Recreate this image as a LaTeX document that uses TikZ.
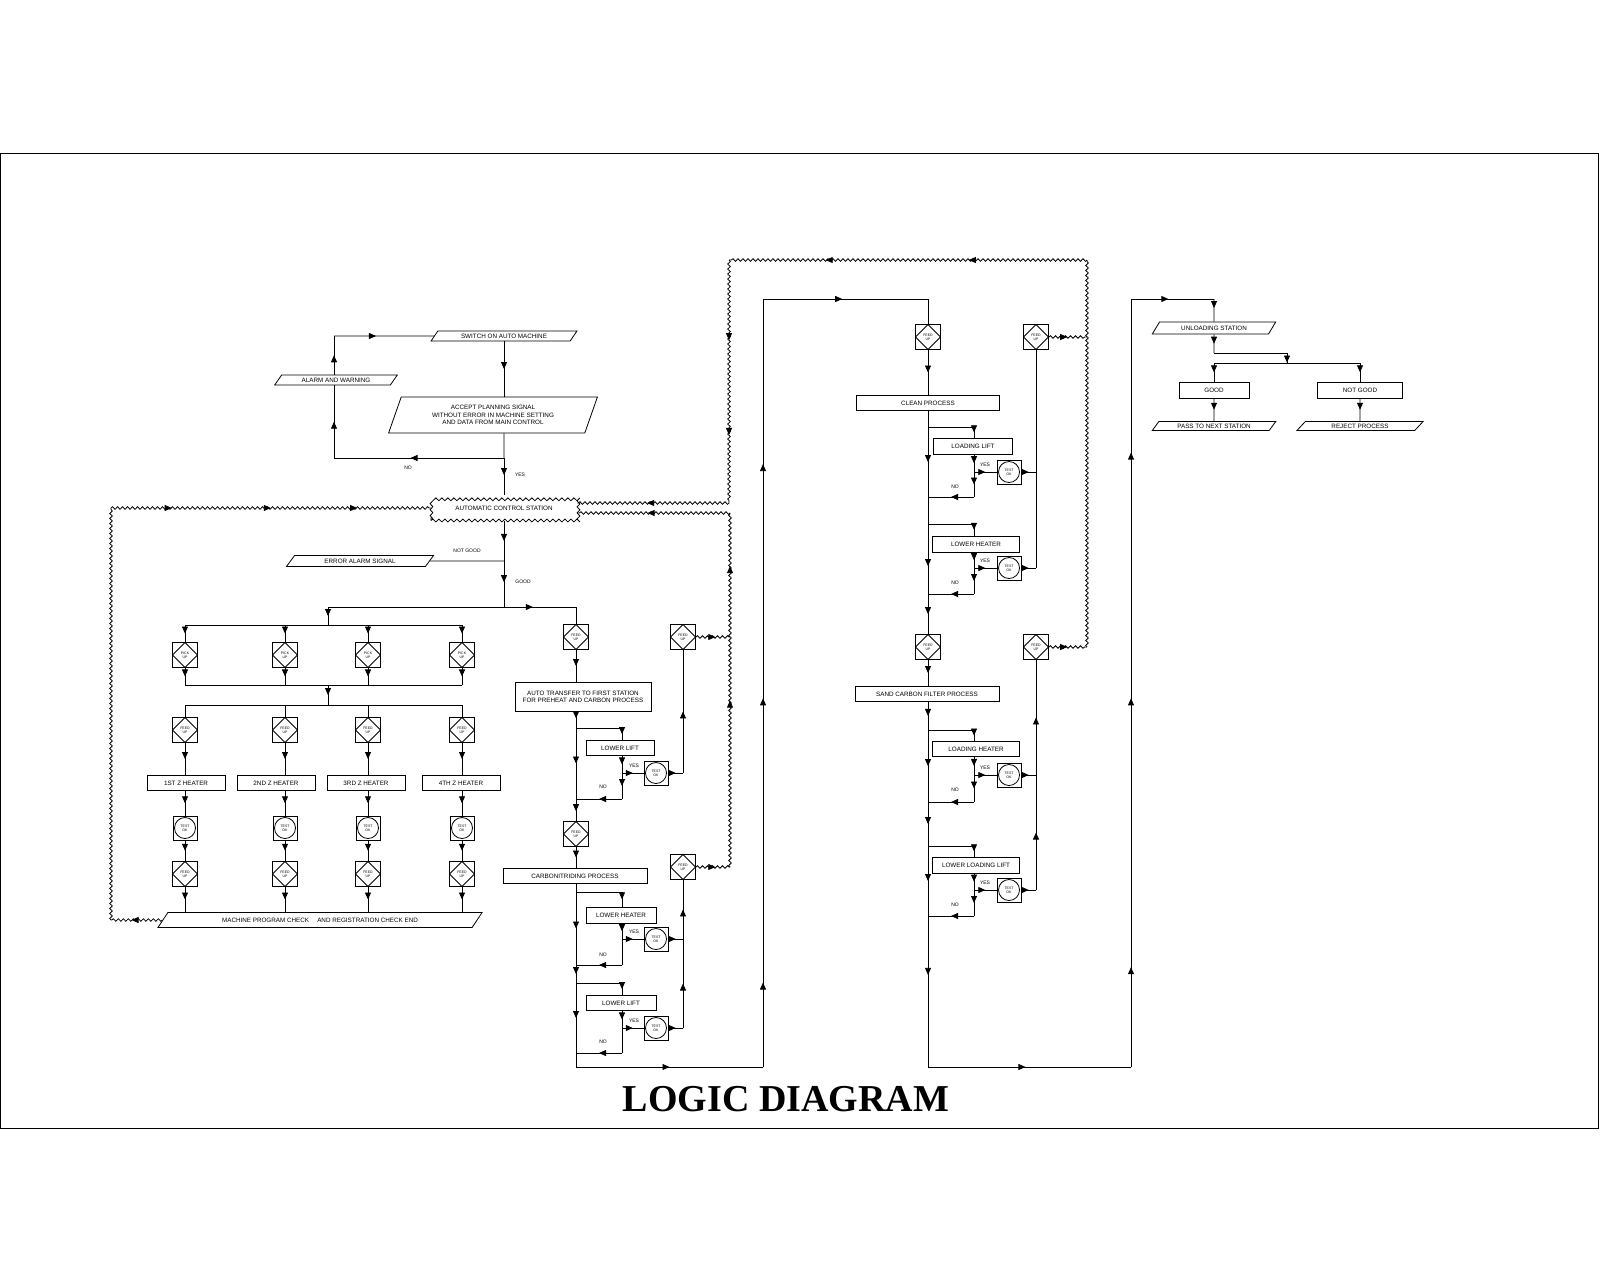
\documentclass[tikz,border=0pt]{standalone}
\usepackage{fontspec}
\setmainfont{Liberation Serif}
\setsansfont{Liberation Sans}
\usepackage{tikz}
\usetikzlibrary{shapes.geometric,decorations.pathmorphing,decorations.markings,arrows.meta}
\begin{document}
\begin{tikzpicture}[x=1pt, y=-1pt, line width=0.8pt,
  every node/.style={font=\sffamily\fontsize{6.3}{7.3}\selectfont, inner sep=1pt, align=center},
  box/.style={draw, rectangle, minimum height=15pt},
  para/.style={draw, trapezium, trapezium left angle=55, trapezium right angle=125, trapezium stretches=true, minimum height=10pt},
  dia/.style={draw, minimum size=25pt, inner sep=0pt, font=\sffamily\fontsize{3.5}{4}\selectfont, path picture={\draw (path picture bounding box.north)--(path picture bounding box.east)--(path picture bounding box.south)--(path picture bounding box.west)--cycle;}},
  chk/.style={draw, minimum size=24pt, inner sep=0pt, font=\sffamily\fontsize{3.5}{4}\selectfont, path picture={\draw (path picture bounding box.center) circle (10.5pt);}},
  wbox/.style={draw, decorate, decoration={snake, amplitude=1.4pt, segment length=6pt}, minimum width=146pt, minimum height=25pt},
  arw/.style={postaction={decorate, decoration={markings, mark=at position #1 with {\arrow{Triangle[length=7pt, width=6pt]}}}}},
  arw/.default=0.5,
  wave/.style={postaction={draw, decorate, decoration={snake, amplitude=1.3pt, segment length=5pt}}},
  lbl/.style={font=\sffamily\fontsize{5}{6}\selectfont}]
\useasboundingbox (0,0) rectangle (1600,1280);
\draw (0,153) rectangle (1598,1128);
\node (ttl) [font=\rmfamily\bfseries\fontsize{38}{44}\selectfont] at (786,1099) {LOGIC DIAGRAM};

\node (sw) [para, minimum width=146pt] at (504,336) {SWITCH ON AUTO MACHINE};
\node (al) [para, minimum width=123pt] at (336,380) {ALARM AND WARNING};
\node (acc) [para, minimum width=209pt, minimum height=36pt, trapezium left angle=68, trapezium right angle=112] at (493,415) {ACCEPT PLANNING SIGNAL\\WITHOUT ERROR IN MACHINE SETTING\\AND DATA FROM MAIN CONTROL};
\node (no0) [lbl] at (408,468) {NO};
\node (yes0) [lbl] at (520,475) {YES};
\node (ctl) [wbox] at (504,508) {AUTOMATIC CONTROL STATION};
\node (rej) [para, minimum width=148pt, minimum height=11pt] at (360,561) {ERROR ALARM SIGNAL};
\node (ng0) [lbl] at (467,551) {NOT GOOD};
\node (gd0) [lbl] at (523,582) {GOOD};
\coordinate (tl) at (334,336); \coordinate (bl) at (334,458); \coordinate (br) at (504,458);
\draw[arw] (sw.south)--(sw.south|-acc.north); \draw (sw.south|-acc.south)--(br);
\draw[arw=0.55] (br)--(bl); \draw[arw] (bl)--(bl|-al.south); \draw[arw] (bl|-al.north)--(tl); \draw[arw=0.42] (tl)--(sw.west);
\draw[arw=0.46] (br)--(ctl.north);
\coordinate (ng1) at (504,561); \coordinate (sp) at (504,607);
\draw[arw] (ctl.south)--(ng1); \draw (ng1)--(rej.east); \draw[arw=0.46] (ng1)--(sp);

% heater columns
\node (pa1) [dia] at (185,655) {PICK\\UP}; \node (pb1) [dia] at (285,655) {PICK\\UP};
\node (pc1) [dia] at (368,655) {PICK\\UP}; \node (pd1) [dia] at (462,655) {PICK\\UP};
\node (pa2) [dia] at (185,730) {FEED\\UP}; \node (pb2) [dia] at (285,730) {FEED\\UP};
\node (pc2) [dia] at (368,730) {FEED\\UP}; \node (pd2) [dia] at (462,730) {FEED\\UP};
\node (ha) [box, minimum width=78pt] at (186,783) {1ST Z HEATER}; \node (hb) [box, minimum width=78pt] at (276,783) {2ND Z HEATER};
\node (hc) [box, minimum width=78pt] at (366,783) {3RD Z HEATER}; \node (hd) [box, minimum width=78pt] at (461,783) {4TH Z HEATER};
\node (ta) [chk] at (185,828) {TEST\\OK}; \node (tb) [chk] at (285,828) {TEST\\OK};
\node (tc) [chk] at (368,828) {TEST\\OK}; \node (td) [chk] at (462,828) {TEST\\OK};
\node (pa3) [dia] at (185,874) {FEED\\UP}; \node (pb3) [dia] at (285,874) {FEED\\UP};
\node (pc3) [dia] at (368,874) {FEED\\UP}; \node (pd3) [dia] at (462,874) {FEED\\UP};
\node (mpc) [para, minimum width=325pt, minimum height=15pt, trapezium left angle=45, trapezium right angle=135] at (320,920) {MACHINE PROGRAM CHECK \quad AND REGISTRATION CHECK END};
\coordinate (sl) at (328,607); \coordinate (sr) at (576,607); \coordinate (r1) at (328,625);
\coordinate (ra) at (185,625); \coordinate (rd) at (462,625);
\coordinate (ka) at (185,685); \coordinate (kd) at (462,685); \coordinate (k0) at (328,685);
\coordinate (la) at (185,705); \coordinate (ld) at (462,705); \coordinate (l0) at (328,705);
\draw (sl)--(sp); \draw[arw=0.4] (sp)--(sr); \draw[arw] (sl)--(r1); \draw (ra)--(rd);
\draw[arw] (ra)--(pa1.north); \draw[arw] (pb1.north|-ra)--(pb1.north); \draw[arw] (pc1.north|-ra)--(pc1.north); \draw[arw] (rd)--(pd1.north);
\draw[arw] (pa1.south)--(ka); \draw[arw] (pb1.south)--(pb1.south|-ka); \draw[arw] (pc1.south)--(pc1.south|-ka); \draw[arw] (pd1.south)--(kd);
\draw (ka)--(kd); \draw[arw] (k0)--(l0); \draw (la)--(ld);
\draw (la)--(pa2.north); \draw (pb2.north|-la)--(pb2.north); \draw (pc2.north|-la)--(pc2.north); \draw (ld)--(pd2.north);
\draw[arw] (pa2.south)--(pa2.south|-ha.north); \draw[arw] (pb2.south)--(pb2.south|-hb.north); \draw[arw] (pc2.south)--(pc2.south|-hc.north); \draw[arw] (pd2.south)--(pd2.south|-hd.north);
\draw[arw] (pa2.south|-ha.south)--(ta.north); \draw[arw] (pb2.south|-hb.south)--(tb.north); \draw[arw] (pc2.south|-hc.south)--(tc.north); \draw[arw] (pd2.south|-hd.south)--(td.north);
\draw[arw] (ta.south)--(pa3.north); \draw[arw] (tb.south)--(pb3.north); \draw[arw] (tc.south)--(pc3.north); \draw[arw] (td.south)--(pd3.north);
\draw[arw] (pa3.south)--(pa3.south|-mpc.north); \draw[arw] (pb3.south)--(pb3.south|-mpc.north); \draw[arw] (pc3.south)--(pc3.south|-mpc.north); \draw[arw] (pd3.south)--(pd3.south|-mpc.north);
\coordinate (wl1) at (111,920); \coordinate (wl2) at (111,508);
\path[wave, arw=0.6] (mpc.west)--(wl1); \path[wave] (wl1)--(wl2); \path[wave, arw=0.19, arw=0.5, arw=0.77] (wl2)--(ctl.west);

% middle column
\node (dm1) [dia] at (576,637) {FEED\\UP}; \node (dm1r) [dia] at (683,637) {FEED\\UP};
\node (tr) [box, minimum width=136pt, minimum height=29pt] at (583,697) {AUTO TRANSFER TO FIRST STATION\\FOR PREHEAT AND CARBON PROCESS};
\node (ll1) [box, minimum width=68pt] at (620,748) {LOWER LIFT};
\node (c1) [chk] at (656,773) {TEST\\OK};
\node (dm2) [dia] at (576,834) {FEED\\UP}; \node (dm2r) [dia] at (683,867) {FEED\\UP};
\node (cb) [box, minimum width=144pt] at (575,876) {CARBONITRIDING PROCESS};
\node (lh1) [box, minimum width=70pt, minimum height=16pt] at (621,915) {LOWER HEATER};
\node (c2) [chk] at (656,939) {TEST\\OK};
\node (ll2) [box, minimum width=70pt] at (621,1003) {LOWER LIFT};
\node (c3) [chk] at (656,1028) {TEST\\OK};
\node [lbl] at (634,766) {YES}; \node [lbl] at (603,787) {NO};
\node [lbl] at (634,932) {YES}; \node [lbl] at (603,955) {NO};
\node [lbl] at (634,1021) {YES}; \node [lbl] at (603,1042) {NO};
\draw (sr)--(dm1.north);
\coordinate (m1) at (576,728); \coordinate (m2) at (576,799); \coordinate (b1) at (622,728);
\coordinate (y1) at (622,773); \coordinate (n1) at (622,799); \coordinate (u1) at (683,773);
\draw[arw] (dm1.south)--(dm1.south|-tr.north); \draw[arw=0.4] (dm1.south|-tr.south)--(m1);
\draw (m1)--(b1); \draw[arw] (b1)--(b1|-ll1.north); \draw[arw] (b1|-ll1.south)--(y1); \draw[arw] (y1)--(n1); \draw[arw] (n1)--(m2);
\draw[arw] (y1)--(c1.west); \draw[arw] (c1.east)--(u1); \draw[arw] (u1)--(dm1r.south);
\draw[arw] (m1)--(m2); \draw[arw=0.55] (m2)--(dm2.north);
\coordinate (m3) at (576,892); \coordinate (b2) at (622,892); \coordinate (y2) at (622,939); \coordinate (n2) at (622,965);
\coordinate (m4) at (576,965); \coordinate (u2) at (683,939);
\draw[arw] (dm2.south)--(dm2.south|-cb.north); \draw (dm2.south|-cb.south)--(m3)--(b2); \draw[arw] (b2)--(b2|-lh1.north);
\draw[arw] (b2|-lh1.south)--(y2); \draw (y2)--(n2); \draw[arw] (n2)--(m4);
\draw[arw] (y2)--(c2.west); \draw[arw] (c2.east)--(u2); \draw[arw] (u2)--(dm2r.south);
\draw[arw] (m3)--(m4);
\coordinate (m5) at (576,983); \coordinate (b3) at (622,983); \coordinate (y3) at (622,1028); \coordinate (n3) at (622,1053);
\coordinate (m6) at (576,1053); \coordinate (u3) at (683,1028);
\draw[arw] (m4)--(m5); \draw (m5)--(b3); \draw[arw] (b3)--(b3|-ll2.north);
\draw[arw] (b3|-ll2.south)--(y3); \draw (y3)--(n3); \draw[arw] (n3)--(m6);
\draw[arw] (y3)--(c3.west); \draw[arw] (c3.east)--(u3); \draw[arw] (u3)--(u2);
\draw[arw] (m5)--(m6);

% right column
\node (dd1) [dia] at (928,337) {FEED\\UP}; \node (dd1r) [dia] at (1036,337) {FEED\\UP};
\node (cp) [box, minimum width=143pt] at (928,403) {CLEAN PROCESS};
\node (lf1) [box, minimum width=79pt, minimum height=16pt] at (973,446) {LOADING LIFT};
\node (c4) [chk] at (1009,472) {TEST\\OK};
\node (lh2) [box, minimum width=87pt, minimum height=16pt] at (976,544) {LOWER HEATER};
\node (c5) [chk] at (1009,568) {TEST\\OK};
\node (dd2) [dia] at (928,647) {FEED\\UP}; \node (dd2r) [dia] at (1036,647) {FEED\\UP};
\node (sc) [box, minimum width=144pt] at (927,694) {SAND CARBON FILTER PROCESS};
\node (lh3) [box, minimum width=87pt] at (976,749) {LOADING HEATER};
\node (c6) [chk] at (1009,775) {TEST\\OK};
\node (ll3) [box, minimum width=87pt, minimum height=16pt] at (976,865) {LOWER LOADING LIFT};
\node (c7) [chk] at (1009,890) {TEST\\OK};
\node [lbl] at (985,465) {YES}; \node [lbl] at (955,487) {NO};
\node [lbl] at (985,561) {YES}; \node [lbl] at (955,583) {NO};
\node [lbl] at (985,768) {YES}; \node [lbl] at (955,790) {NO};
\node [lbl] at (985,883) {YES}; \node [lbl] at (955,905) {NO};
\coordinate (m7) at (576,1067); \coordinate (k1) at (763,1067); \coordinate (k2) at (763,299); \coordinate (k3) at (928,299);
\draw (m6)--(m7); \draw[arw] (m7)--(k1); \draw[arw=0.11, arw=0.48, arw=0.785] (k1)--(k2); \draw[arw=0.48] (k2)--(k3); \draw (k3)--(dd1.north);
\coordinate (q1) at (928,427); \coordinate (e1) at (974,427); \coordinate (f1) at (974,472); \coordinate (g1) at (974,497);
\coordinate (q2) at (928,497); \coordinate (v1) at (1036,472);
\draw[arw] (dd1.south)--(cp.north); \draw (cp.south)--(q1)--(e1); \draw[arw] (e1)--(e1|-lf1.north);
\draw[arw] (e1|-lf1.south)--(f1); \draw[arw] (f1)--(g1); \draw[arw] (g1)--(q2);
\draw[arw] (f1)--(c4.west); \draw[arw] (c4.east)--(v1); \draw[arw] (q1)--(q2);
\coordinate (q3) at (928,524); \coordinate (e2) at (974,524); \coordinate (f2) at (974,568); \coordinate (g2) at (974,594);
\coordinate (q4) at (928,594); \coordinate (v2) at (1036,568);
\draw (q2)--(q3)--(e2); \draw[arw] (e2)--(e2|-lh2.north);
\draw[arw] (e2|-lh2.south)--(f2); \draw[arw] (f2)--(g2); \draw[arw] (g2)--(q4);
\draw[arw] (f2)--(c5.west); \draw[arw] (c5.east)--(v2); \draw[arw=0.6] (q3)--(q4); \draw[arw] (q4)--(dd2.north);
\draw (dd1r.south)--(v2);
\coordinate (q5) at (928,730); \coordinate (e3) at (974,730); \coordinate (f3) at (974,775); \coordinate (g3) at (974,802);
\coordinate (q6) at (928,802); \coordinate (v3) at (1036,775);
\draw[arw] (dd2.south)--(dd2.south|-sc.north); \draw[arw] (dd2.south|-sc.south)--(q5); \draw (q5)--(e3); \draw[arw] (e3)--(e3|-lh3.north);
\draw[arw] (e3|-lh3.south)--(f3); \draw[arw] (f3)--(g3); \draw[arw] (g3)--(q6);
\draw[arw] (f3)--(c6.west); \draw[arw] (c6.east)--(v3); \draw[arw] (q5)--(q6);
\coordinate (q7) at (928,846); \coordinate (e4) at (974,846); \coordinate (f4) at (974,890); \coordinate (g4) at (974,916);
\coordinate (q8) at (928,916); \coordinate (v4) at (1036,890);
\draw[arw] (q6)--(q7); \draw (q7)--(e4); \draw[arw] (e4)--(e4|-ll3.north);
\draw[arw] (e4|-ll3.south)--(f4); \draw[arw] (f4)--(g4); \draw[arw] (g4)--(q8);
\draw[arw] (f4)--(c7.west); \draw[arw] (c7.east)--(v4); \draw[arw] (q7)--(q8);
\draw[arw] (v4)--(v3); \draw[arw] (v3)--(dd2r.south);
\coordinate (q9) at (928,1067); \coordinate (k4) at (1131,1067); \coordinate (k5) at (1131,299); \coordinate (k6) at (1214,299);
\draw[arw=0.39] (q8)--(q9); \draw[arw=0.48] (q9)--(k4); \draw[arw=0.13, arw=0.48, arw=0.8] (k4)--(k5); \draw[arw=0.45] (k5)--(k6);

% feedback lines
\coordinate (w1) at (729,260); \coordinate (w2) at (1087,260); \coordinate (w3) at (729,503); \coordinate (w4) at (730,513);
\coordinate (w5) at (730,867); \coordinate (w6) at (730,637); \coordinate (w7) at (1087,647); \coordinate (w8) at (1087,337);
\path[wave] (w7)--(w2); \path[wave, arw=0.33, arw=0.73] (w2)--(w1); \path[wave, arw=0.33, arw=0.72] (w1)--(w3);
\path[wave, arw=0.54] (w3)--(ctl.east|-w3); \path[wave, arw=0.54] (w4)--(ctl.east|-w4);
\path[wave, arw=0.47, arw=0.85] (w5)--(w4);
\path[wave, arw=0.57] (dm1r.east)--(w6); \path[wave, arw=0.57] (dm2r.east)--(w5);
\path[wave, arw=0.48] (dd1r.east)--(w8); \path[wave, arw=0.48] (dd2r.east)--(w7);

% unloading
\node (uls) [para, minimum width=124pt, minimum height=12pt] at (1214,328) {UNLOADING STATION};
\node (gd) [box, minimum width=70pt, minimum height=16pt] at (1214,390) {GOOD};
\node (ng) [box, minimum width=85pt, minimum height=16pt] at (1360,390) {NOT GOOD};
\node (ps) [para, minimum width=124pt, minimum height=9pt] at (1214,426) {PASS TO NEXT STATION};
\node (rp) [para, minimum width=127pt, minimum height=9pt] at (1360,426) {REJECT PROCESS};
\coordinate (h1) at (1214,353); \coordinate (h2) at (1287,353); \coordinate (h3) at (1287,363);
\coordinate (h4) at (1214,363); \coordinate (h5) at (1360,363);
\draw[arw=0.4] (k6)--(uls.north); \draw[arw] (uls.south)--(h1); \draw (h1)--(h2); \draw[arw=0.95] (h2)--(h3);
\draw (h4)--(h5); \draw[arw] (h4)--(gd.north); \draw[arw] (h5)--(ng.north);
\draw[arw] (gd.south)--(ps.north); \draw[arw] (ng.south)--(rp.north);
\end{tikzpicture}
\end{document}
